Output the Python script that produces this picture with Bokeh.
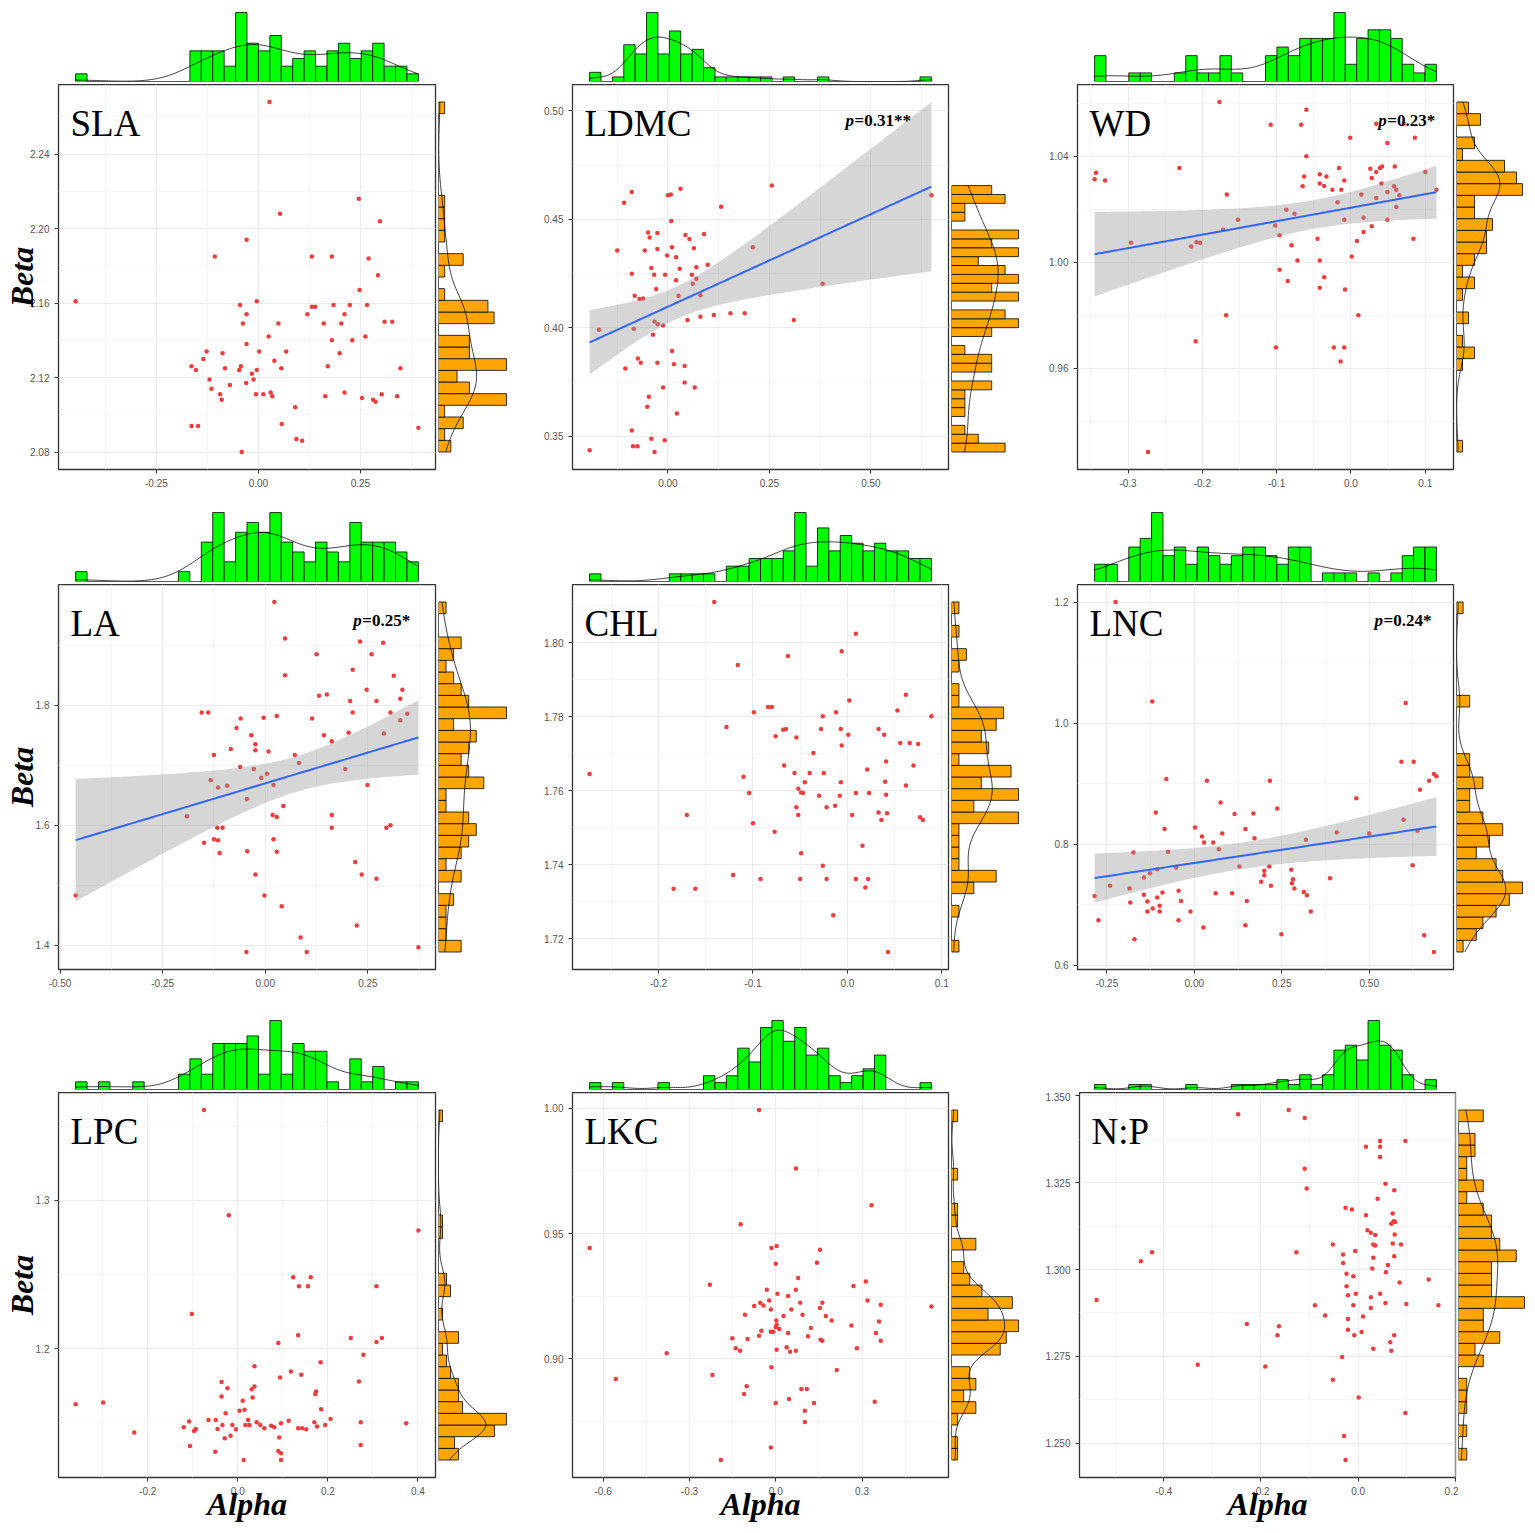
import numpy as np
from bokeh.plotting import figure
from bokeh.layouts import row, column
from bokeh.models import Range1d, FixedTicker, Spacer, PrintfTickFormatter
from bokeh.core.properties import value
from bokeh.embed import file_html
from bokeh.resources import INLINE

# ---------------- data ----------------
sla_alpha = [0.027, -0.448, 0.246, 0.053, 0.298, -0.029, -0.107, 0.131, 0.180, 0.270,
             0.293, 0.248, -0.045, -0.004, 0.131, 0.139, 0.184, 0.224, 0.266, -0.029,
             0.120, 0.211, -0.038, 0.049, 0.160, 0.203, 0.309, 0.328, 0.025, 0.262,
             0.230, 0.180, -0.029, -0.127, -0.088, 0.002, 0.068, 0.199, -0.135, 0.039,
             -0.164, -0.153, -0.082, -0.047, -0.043, -0.004, -0.016, 0.056, 0.170, 0.348,
             -0.120, -0.012, -0.030, -0.070, -0.115, -0.094, -0.090, -0.006, 0.012, 0.030,
             0.034, 0.211, 0.164, 0.254, 0.281, 0.287, 0.302, 0.340, 0.090, -0.164,
             -0.148, 0.057, 0.392, 0.093, 0.107, -0.041]
sla_beta = [2.268, 2.161, 2.216, 2.208, 2.204, 2.194, 2.185, 2.185, 2.185, 2.184,
            2.175, 2.167, 2.159, 2.161, 2.158, 2.158, 2.159, 2.159, 2.159, 2.154,
            2.154, 2.154, 2.149, 2.149, 2.149, 2.149, 2.150, 2.150, 2.142, 2.142,
            2.140, 2.140, 2.138, 2.134, 2.133, 2.134, 2.134, 2.133, 2.130, 2.129,
            2.126, 2.124, 2.125, 2.124, 2.126, 2.124, 2.122, 2.125, 2.126, 2.125,
            2.119, 2.119, 2.117, 2.116, 2.114, 2.111, 2.108, 2.111, 2.111, 2.112,
            2.110, 2.112, 2.110, 2.109, 2.108, 2.107, 2.111, 2.110, 2.104, 2.094,
            2.094, 2.095, 2.093, 2.087, 2.086, 2.080]

ldmc_alpha = [0.256, 0.649, -0.089, 0.031, 0.000, 0.007, -0.108, 0.131, 0.008, -0.049,
              -0.026, -0.045, 0.043, 0.053, 0.089, -0.125, -0.057, -0.026, 0.010, 0.064,
              0.209, -0.002, 0.020, 0.098, -0.041, 0.070, 0.029, -0.089, -0.034, -0.007,
              0.059, 0.020, 0.070, 0.061, 0.381, -0.029, -0.082, -0.070, -0.061, 0.026,
              0.080, 0.113, 0.154, 0.189, 0.080, 0.048, 0.310, -0.033, -0.025, -0.012,
              -0.170, -0.084, -0.037, 0.010, -0.074, -0.067, -0.105, -0.026, 0.015, 0.041,
              0.041, -0.012, 0.066, -0.047, -0.051, 0.022, -0.089, -0.041, -0.008, -0.086,
              -0.075, -0.193, -0.033]
ldmc_beta = [0.4656, 0.4611, 0.4626, 0.4641, 0.4611, 0.4615, 0.4577, 0.4559, 0.4493, 0.4440,
             0.4437, 0.4417, 0.4428, 0.4410, 0.4433, 0.4357, 0.4357, 0.4364, 0.4372, 0.4367,
             0.4372, 0.4334, 0.4326, 0.4291, 0.4276, 0.4280, 0.4273, 0.4250, 0.4245, 0.4245,
             0.4245, 0.4220, 0.4227, 0.4204, 0.4204, 0.4179, 0.4148, 0.4133, 0.4136, 0.4148,
             0.4151, 0.4060, 0.4067, 0.4067, 0.4052, 0.4037, 0.4037, 0.4029, 0.4017, 0.4011,
             0.3991, 0.3996, 0.3969, 0.3893, 0.3859, 0.3839, 0.3813, 0.3839, 0.3832, 0.3824,
             0.3748, 0.3725, 0.3725, 0.3683, 0.3637, 0.3606, 0.3527, 0.3489, 0.3482, 0.3454,
             0.3454, 0.3436, 0.3428]

wd_alpha = [-0.177, -0.060, -0.108, -0.067, 0.034, 0.071, -0.001, 0.086, 0.049, -0.060,
            -0.231, -0.343, -0.345, -0.331, -0.016, 0.026, 0.039, 0.042, 0.059, 0.034,
            0.100, -0.063, -0.042, -0.033, 0.028, -0.009, -0.042, -0.036, -0.065, 0.041,
            0.058, -0.025, -0.013, 0.115, 0.049, 0.061, -0.167, 0.014, 0.065, 0.034,
            -0.018, 0.061, -0.087, -0.076, -0.152, -0.009, 0.017, 0.049, -0.102, -0.172,
            0.028, 0.017, -0.096, -0.296, -0.208, -0.203, -0.215, -0.045, 0.008, 0.084,
            -0.080, -0.072, -0.042, 0.001, -0.096, -0.036, -0.085, -0.042, -0.008, -0.168,
            0.010, -0.209, -0.101, -0.023, -0.009, -0.014, -0.273]
wd_beta = [1.0604, 1.0575, 1.0518, 1.0518, 1.0522, 1.0522, 1.0469, 1.0469, 1.0449, 1.0399,
           1.0355, 1.0337, 1.0312, 1.0308, 1.0355, 1.0352, 1.0355, 1.0361, 1.0361, 1.0340,
           1.0340, 1.0323, 1.0331, 1.0323, 1.0317, 1.0308, 1.0296, 1.0287, 1.0286, 1.0296,
           1.0286, 1.0273, 1.0273, 1.0273, 1.0264, 1.0273, 1.0255, 1.0255, 1.0252, 1.0242,
           1.0226, 1.0208, 1.0197, 1.0182, 1.0160, 1.0160, 1.0167, 1.0160, 1.0138, 1.0122,
           1.0135, 1.0113, 1.0101, 1.0073, 1.0075, 1.0073, 1.0059, 1.0088, 1.0079, 1.0088,
           1.0063, 1.0006, 1.0006, 1.0021, 0.9971, 0.9943, 0.9928, 0.9903, 0.9896, 0.9799,
           0.9799, 0.9701, 0.9677, 0.9677, 0.9677, 0.9625, 0.9283]

la_alpha = [0.022, 0.048, 0.231, 0.287, 0.125, 0.259, 0.213, 0.048, 0.313, 0.131,
            0.150, 0.247, 0.334, 0.207, 0.271, 0.329, -0.155, -0.139, 0.028, 0.213,
            0.305, 0.346, -0.060, -0.004, 0.114, 0.329, -0.070, -0.034, 0.143, 0.203,
            0.289, -0.024, 0.162, -0.084, -0.024, 0.008, -0.125, 0.072, 0.082, -0.061,
            -0.028, 0.195, 0.004, -0.010, -0.133, -0.115, -0.093, 0.020, 0.249, -0.045,
            0.044, -0.191, 0.018, 0.028, 0.162, -0.117, -0.104, 0.162, 0.295, 0.305,
            -0.149, -0.125, -0.115, 0.020, -0.111, -0.044, 0.028, 0.219, -0.024, 0.235,
            0.271, -0.462, -0.002, 0.040, 0.223, 0.086, -0.046, 0.101, 0.373]
la_beta = [1.972, 1.911, 1.906, 1.904, 1.885, 1.885, 1.859, 1.850, 1.849, 1.816,
           1.818, 1.826, 1.826, 1.807, 1.807, 1.811, 1.788, 1.788, 1.782, 1.788,
           1.788, 1.786, 1.778, 1.779, 1.778, 1.775, 1.762, 1.750, 1.750, 1.754,
           1.753, 1.735, 1.740, 1.727, 1.725, 1.723, 1.717, 1.717, 1.704, 1.697,
           1.694, 1.694, 1.686, 1.679, 1.675, 1.663, 1.666, 1.667, 1.667, 1.644,
           1.632, 1.615, 1.617, 1.614, 1.617, 1.596, 1.596, 1.596, 1.596, 1.600,
           1.571, 1.577, 1.575, 1.577, 1.554, 1.557, 1.556, 1.539, 1.518, 1.518,
           1.511, 1.483, 1.483, 1.465, 1.433, 1.413, 1.389, 1.389, 1.397]

chl_alpha = [-0.141, 0.009, -0.006, -0.063, -0.116, 0.062, 0.002, -0.084, -0.080, -0.099,
             -0.012, 0.053, -0.026, 0.089, -0.128, -0.068, -0.065, -0.028, -0.007, 0.033,
             -0.076, -0.054, 0.001, 0.039, -0.006, 0.056, 0.066, 0.075, -0.036, -0.067,
             0.041, 0.070, 0.021, -0.110, -0.056, -0.040, -0.025, -0.045, -0.007, 0.040,
             0.062, -0.052, -0.049, -0.047, -0.104, -0.030, -0.008, 0.009, 0.023, 0.041,
             -0.022, -0.013, -0.054, -0.052, 0.005, 0.033, 0.042, 0.036, -0.170, 0.077,
             0.080, -0.100, -0.077, 0.016, -0.049, -0.026, -0.121, -0.092, -0.050, -0.022,
             0.009, 0.022, 0.019, -0.184, -0.161, -0.015, 0.043, -0.273]
chl_beta = [1.8110, 1.8024, 1.7977, 1.7964, 1.7940, 1.7859, 1.7844, 1.7826, 1.7826, 1.7812,
            1.7812, 1.7817, 1.7801, 1.7801, 1.7772, 1.7765, 1.7767, 1.7767, 1.7767, 1.7767,
            1.7747, 1.7744, 1.7751, 1.7751, 1.7722, 1.7729, 1.7729, 1.7726, 1.7702, 1.7668,
            1.7679, 1.7668, 1.7657, 1.7638, 1.7648, 1.7648, 1.7648, 1.7623, 1.7623, 1.7624,
            1.7614, 1.7605, 1.7595, 1.7594, 1.7594, 1.7586, 1.7586, 1.7594, 1.7594, 1.7589,
            1.7555, 1.7559, 1.7555, 1.7534, 1.7534, 1.7541, 1.7539, 1.7521, 1.7534, 1.7528,
            1.7521, 1.7512, 1.7489, 1.7451, 1.7431, 1.7397, 1.7372, 1.7361, 1.7361, 1.7361,
            1.7361, 1.7361, 1.7338, 1.7335, 1.7335, 1.7263, 1.7164, 1.7645]

lnc_alpha = [-0.225, -0.120, 0.604, 0.592, 0.627, -0.080, 0.036, 0.216, 0.685, 0.692,
             0.671, 0.645, 0.463, 0.075, -0.110, 0.115, 0.169, 0.237, 0.598, -0.085,
             0.002, 0.146, 0.080, 0.407, 0.500, 0.638, 0.022, 0.028, 0.054, 0.172,
             0.319, 0.070, -0.174, -0.075, -0.052, 0.129, 0.214, 0.624, -0.127, -0.106,
             -0.144, 0.200, 0.200, 0.277, 0.282, 0.279, 0.191, 0.388, -0.241, -0.185,
             0.219, 0.286, -0.285, -0.144, -0.106, -0.091, -0.045, 0.061, 0.108, 0.313,
             0.322, -0.183, -0.134, -0.038, 0.150, -0.119, -0.099, -0.099, -0.134, -0.011,
             0.333, -0.274, -0.045, 0.146, 0.026, 0.249, -0.171, 0.657, 0.685]
lnc_beta = [1.2000, 1.0355, 1.0333, 0.9362, 0.9362, 0.9076, 0.9048, 0.9048, 0.9158, 0.9120,
            0.9048, 0.8899, 0.8756, 0.8689, 0.8524, 0.8496, 0.8507, 0.8590, 0.8403, 0.8248,
            0.8276, 0.8248, 0.8177, 0.8193, 0.8177, 0.8221, 0.8127, 0.8028, 0.8028, 0.8099,
            0.8072, 0.7917, 0.7862, 0.7873, 0.7614, 0.7630, 0.7630, 0.7653, 0.7520, 0.7586,
            0.7448, 0.7559, 0.7487, 0.7575, 0.7421, 0.7355, 0.7377, 0.7437, 0.7311, 0.7266,
            0.7311, 0.7266, 0.7145, 0.7162, 0.7118, 0.7200, 0.7228, 0.7189, 0.7189, 0.7211,
            0.7156, 0.7035, 0.7051, 0.7062, 0.7062, 0.6935, 0.6980, 0.6886, 0.6886, 0.6886,
            0.6886, 0.6742, 0.6742, 0.6660, 0.6621, 0.6511, 0.6428, 0.6494, 0.6218]

lpc_alpha = [-0.075, -0.020, 0.401, 0.123, 0.162, 0.136, 0.156, 0.308, -0.102, 0.134,
             0.251, 0.320, 0.308, 0.090, 0.279, 0.184, 0.037, 0.118, 0.141, 0.094,
             -0.036, 0.269, -0.023, 0.037, 0.031, 0.174, 0.172, -0.360, -0.299, -0.036,
             0.033, 0.011, 0.015, 0.004, 0.185, -0.027, -0.108, -0.065, -0.049, -0.120,
             -0.093, -0.097, -0.045, -0.034, -0.012, -0.004, 0.017, 0.023, 0.026, 0.042,
             0.050, 0.059, 0.074, 0.081, 0.096, 0.113, 0.134, 0.143, 0.152, 0.170,
             0.176, 0.194, 0.206, 0.273, 0.374, -0.230, -0.016, -0.029, 0.092, -0.106,
             0.273, -0.050, 0.090, 0.096, 0.013, 0.096]
lpc_beta = [1.3608, 1.2899, 1.2797, 1.2482, 1.2482, 1.2421, 1.2421, 1.2421, 1.2234, 1.2090,
            1.2072, 1.2072, 1.2045, 1.2038, 1.1959, 1.1908, 1.1881, 1.1847, 1.1824, 1.1806,
            1.1775, 1.1779, 1.1734, 1.1745, 1.1727, 1.1712, 1.1694, 1.1626, 1.1637, 1.1678,
            1.1671, 1.1649, 1.1588, 1.1581, 1.1592, 1.1565, 1.1509, 1.1520, 1.1520, 1.1471,
            1.1459, 1.1446, 1.1459, 1.1486, 1.1486, 1.1457, 1.1486, 1.1520, 1.1486, 1.1504,
            1.1486, 1.1464, 1.1480, 1.1471, 1.1498, 1.1514, 1.1464, 1.1464, 1.1457, 1.1504,
            1.1475, 1.1486, 1.1527, 1.1504, 1.1498, 1.1435, 1.1414, 1.1396, 1.1401, 1.1345,
            1.1351, 1.1306, 1.1311, 1.1295, 1.1250, 1.1250]

lkc_alpha = [-0.058, 0.070, 0.333, -0.122, -0.647, -0.015, 0.003, 0.154, 0.143, 0.000,
             0.078, -0.229, 0.270, 0.313, -0.031, 0.070, 0.006, 0.043, -0.023, 0.319,
             -0.054, 0.085, 0.162, -0.075, -0.043, 0.365, 0.541, 0.154, -0.017, 0.054,
             -0.107, 0.027, 0.093, 0.174, 0.194, 0.002, 0.359, 0.003, 0.263, 0.000,
             0.012, 0.122, -0.050, -0.017, -0.009, 0.043, 0.348, -0.058, 0.112, -0.151,
             -0.098, 0.156, 0.162, 0.365, -0.139, -0.124, 0.003, 0.038, 0.050, 0.070,
             0.282, -0.379, -0.015, 0.212, -0.220, -0.556, -0.101, 0.089, 0.108, -0.110,
             0.046, 0.000, 0.133, 0.344, 0.101, 0.101, -0.017, -0.191]
lkc_beta = [0.9993, 0.9760, 0.9613, 0.9537, 0.9443, 0.9443, 0.9451, 0.9436, 0.9384, 0.9380,
            0.9323, 0.9296, 0.9291, 0.9309, 0.9276, 0.9276, 0.9260, 0.9251, 0.9233, 0.9233,
            0.9224, 0.9224, 0.9224, 0.9211, 0.9213, 0.9216, 0.9209, 0.9203, 0.9197, 0.9197,
            0.9176, 0.9171, 0.9176, 0.9171, 0.9153, 0.9153, 0.9149, 0.9136, 0.9133, 0.9127,
            0.9120, 0.9123, 0.9113, 0.9109, 0.9109, 0.9104, 0.9104, 0.9093, 0.9091, 0.9083,
            0.9080, 0.9077, 0.9073, 0.9073, 0.9043, 0.9033, 0.9037, 0.9047, 0.9029, 0.9033,
            0.9043, 0.9023, 0.8967, 0.8956, 0.8936, 0.8920, 0.8891, 0.8880, 0.8880, 0.8860,
            0.8840, 0.8824, 0.8824, 0.8829, 0.8793, 0.8749, 0.8647, 0.8597]

np_alpha = [-0.143, -0.247, -0.110, 0.045, 0.097, 0.016, 0.045, 0.045, -0.110, 0.056,
            0.074, -0.106, 0.040, -0.026, -0.013, 0.016, 0.071, 0.073, 0.068, 0.076,
            0.019, 0.026, 0.035, 0.075, -0.052, 0.031, 0.035, 0.071, 0.088, -0.424,
            -0.447, -0.127, -0.031, -0.006, 0.074, -0.031, 0.031, 0.061, 0.029, 0.057,
            -0.024, -0.010, 0.145, 0.085, -0.024, -0.021, -0.005, 0.045, 0.026, -0.538,
            -0.089, -0.010, 0.056, 0.099, 0.165, 0.026, -0.068, 0.010, -0.021, -0.229,
            -0.163, -0.021, 0.007, -0.166, -0.008, 0.074, 0.066, 0.068, 0.031, -0.033,
            -0.330, -0.191, -0.052, 0.001, 0.097, -0.029, -0.026]
np_beta = [1.3459, 1.3447, 1.3436, 1.3370, 1.3370, 1.3353, 1.3353, 1.3324, 1.3290, 1.3247,
           1.3228, 1.3233, 1.3204, 1.3178, 1.3173, 1.3156, 1.3161, 1.3139, 1.3132, 1.3137,
           1.3113, 1.3106, 1.3099, 1.3101, 1.3072, 1.3072, 1.3069, 1.3075, 1.3072, 1.3050,
           1.3024, 1.3050, 1.3043, 1.3053, 1.3038, 1.3019, 1.3034, 1.3013, 1.3003, 1.2992,
           1.2988, 1.2981, 1.2971, 1.2963, 1.2952, 1.2926, 1.2930, 1.2930, 1.2920, 1.2912,
           1.2897, 1.2897, 1.2904, 1.2901, 1.2897, 1.2889, 1.2868, 1.2865, 1.2858, 1.2843,
           1.2837, 1.2827, 1.2820, 1.2811, 1.2811, 1.2811, 1.2791, 1.2766, 1.2772, 1.2748,
           1.2726, 1.2721, 1.2683, 1.2632, 1.2587, 1.2521, 1.2452]

panel_names = ["SLA", "LDMC", "WD", "LA", "CHL", "LNC", "LPC", "LKC", "N:P"]
rho_values = [None, "=0.31**", "=0.23*", "=0.25*", None, "=0.24*", None, None, None]
has_fit = [False, True, True, True, False, True, False, False, False]

x_ticks = [[-0.25, 0.0, 0.25], [0.0, 0.25, 0.5], [-0.3, -0.2, -0.1, 0.0, 0.1],
           [-0.5, -0.25, 0.0, 0.25], [-0.2, -0.1, 0.0, 0.1], [-0.25, 0.0, 0.25, 0.5],
           [-0.2, 0.0, 0.2, 0.4], [-0.6, -0.3, 0.0, 0.3], [-0.4, -0.2, 0.0, 0.2]]
y_ticks = [[2.08, 2.12, 2.16, 2.20, 2.24], [0.35, 0.40, 0.45, 0.50], [0.96, 1.00, 1.04],
           [1.4, 1.6, 1.8], [1.72, 1.74, 1.76, 1.78, 1.80], [0.6, 0.8, 1.0, 1.2],
           [1.2, 1.3], [0.90, 0.95, 1.00], [1.250, 1.275, 1.300, 1.325, 1.350]]
x_fmt = ["%.2f", "%.2f", "%.1f", "%.2f", "%.1f", "%.2f", "%.1f", "%.1f", "%.1f"]
y_fmt = ["%.2f", "%.2f", "%.2f", "%.1f", "%.2f", "%.1f", "%.1f", "%.2f", "%.3f"]

alphas = [sla_alpha, ldmc_alpha, wd_alpha, la_alpha, chl_alpha, lnc_alpha, lpc_alpha, lkc_alpha, np_alpha]
betas = [sla_beta, ldmc_beta, wd_beta, la_beta, chl_beta, lnc_beta, lpc_beta, lkc_beta, np_beta]

# ---------------- layout / style ----------------
FW = [377, 376, 376]        # main frame widths per column
LB = [58, 35, 35]           # left borders per column
RW = [70, 69, 68]           # right-marginal frame widths
RB = [29, 22, 2]            # right borders of right marginal
FH = 385                    # main frame height
BB = [39, 47, 46]           # bottom borders per row
TT = [10, 2, 2]             # top borders of top marginals per row
BETA_STANDOFF = [-13, -7, -7]
TOP_H = 71
rho_frac = [0, 0.726, 0.80, 0.782, 0, 0.79, 0, 0, 0]
T_CRIT = 1.992

POINT_COLOR = "#F03C3C"
GREEN = "#00FF00"
ORANGE = "#FFA500"


def minor_of(t):
    s = t[1] - t[0]
    return [t[0] - 1.5 * s + k * s for k in range(len(t) + 3)]


def kde(v, grid):
    v = np.asarray(v, float)
    n = len(v)
    sd = v.std(ddof=1)
    q75, q25 = np.percentile(v, [75, 25])
    h = 0.9 * min(sd, (q75 - q25) / 1.34) * n ** -0.2
    z = (grid[:, None] - v[None, :]) / h
    return np.exp(-0.5 * z ** 2).sum(1) / (n * h * np.sqrt(2 * np.pi))


def lmfit(x, y, grid):
    n = len(x)
    b, a = np.polyfit(x, y, 1)
    res = y - (a + b * x)
    s = np.sqrt((res ** 2).sum() / (n - 2))
    sxx = ((x - x.mean()) ** 2).sum()
    fit = a + b * grid
    se = s * np.sqrt(1.0 / n + (grid - x.mean()) ** 2 / sxx)
    return fit, fit - T_CRIT * se, fit + T_CRIT * se


def make_panel(i, r, c):
    ax = np.array(alphas[i], float)
    by = np.array(betas[i], float)
    n = len(ax)
    xmin, xmax = ax.min(), ax.max()
    gx = np.linspace(xmin, xmax, 200)
    ylo, yhi = by.min(), by.max()
    if has_fit[i]:
        fit, lo, hi = lmfit(ax, by, gx)
        ylo = min(ylo, lo.min())
        yhi = max(yhi, hi.max())
    dx = (xmax - xmin) * 0.05
    dy = (yhi - ylo) * 0.05
    xr = Range1d(xmin - dx, xmax + dx)
    yr = Range1d(ylo - dy, yhi + dy)

    p = figure(x_range=xr, y_range=yr, frame_width=FW[c], frame_height=FH,
               min_border_left=LB[c], min_border_right=3, min_border_top=0,
               min_border_bottom=BB[r], toolbar_location=None, output_backend="svg",
               background_fill_color="white", border_fill_color="white")
    p.xaxis.ticker = FixedTicker(ticks=x_ticks[i], minor_ticks=minor_of(x_ticks[i]))
    p.yaxis.ticker = FixedTicker(ticks=y_ticks[i], minor_ticks=minor_of(y_ticks[i]))
    p.xaxis.formatter = PrintfTickFormatter(format=x_fmt[i])
    p.yaxis.formatter = PrintfTickFormatter(format=y_fmt[i])
    p.grid.grid_line_color = "#EBEBEB"
    p.grid.grid_line_width = 1
    p.grid.minor_grid_line_color = "#F3F3F3"
    p.grid.minor_grid_line_width = 0.8
    p.axis.minor_tick_line_color = None
    p.axis.axis_line_color = None
    p.axis.major_tick_line_color = "#333333"
    p.axis.major_tick_out = 4
    p.axis.major_tick_in = 0
    p.axis.major_label_standoff = 5
    p.axis.major_label_text_font = "Liberation Sans"
    p.axis.major_label_text_font_size = "10px"
    p.axis.major_label_text_color = "#555555"
    p.outline_line_color = "#333333"
    p.outline_line_width = 1.3
    p.outline_line_alpha = 1

    if c == 0:
        p.yaxis.axis_label = "Beta"
        p.yaxis.axis_label_text_font = "Liberation Serif"
        p.yaxis.axis_label_text_font_style = "bold italic"
        p.yaxis.axis_label_text_font_size = "32px"
        p.yaxis.axis_label_text_color = "black"
        p.yaxis.axis_label_standoff = BETA_STANDOFF[r]
    if r == 2:
        p.xaxis.axis_label = "Alpha"
        p.xaxis.axis_label_text_font = "Liberation Serif"
        p.xaxis.axis_label_text_font_style = "bold italic"
        p.xaxis.axis_label_text_font_size = "32px"
        p.xaxis.axis_label_text_color = "black"
        p.xaxis.axis_label_standoff = -12

    p.scatter(ax, by, size=4.5, fill_color=POINT_COLOR, line_color=None)
    if has_fit[i]:
        p.varea(x=gx, y1=lo, y2=hi, fill_color="#999999", fill_alpha=0.4)
        p.line(gx, fit, line_color="#3366FF", line_width=2)

    xs, xe = xr.start, xr.end
    ys, ye = yr.start, yr.end
    p.text(x=[xs + 12.0 / FW[c] * (xe - xs)], y=[ye - 39.0 / FH * (ye - ys)],
           text=[panel_names[i]], text_font=value("Liberation Serif"),
           text_font_size="37px", text_baseline="alphabetic", text_align="left",
           text_color="black")
    if rho_values[i] is not None:
        rx = xs + rho_frac[i] * (xe - xs)
        ry = ye - 36.0 / FH * (ye - ys)
        p.text(x=[rx], y=[ry], text=["p"], text_font=value("Liberation Serif"),
               text_font_size="17px", text_font_style="bold italic",
               text_baseline="alphabetic", text_align="left", text_color="black")
        p.text(x=[rx], y=[ry], text=[rho_values[i]], text_font=value("Liberation Serif"),
               text_font_size="17px", text_font_style="bold", x_offset=9,
               text_baseline="alphabetic", text_align="left", text_color="black")

    # top marginal
    counts, edges = np.histogram(ax, bins=30, range=(xmin, xmax))
    bw = edges[1] - edges[0]
    dens = kde(ax, gx) * n * bw
    tmax = max(counts.max(), dens.max()) * 1.03
    top = figure(x_range=xr, y_range=Range1d(0, tmax), frame_width=FW[c], frame_height=TOP_H,
                 min_border_left=LB[c], min_border_right=3, min_border_top=TT[r],
                 min_border_bottom=3, x_axis_location=None, y_axis_location=None,
                 toolbar_location=None, output_backend="svg", outline_line_color=None,
                 background_fill_color="white", border_fill_color="white")
    top.grid.grid_line_color = None
    top.quad(left=edges[:-1], right=edges[1:], bottom=0, top=counts,
             fill_color=GREEN, line_color="black", line_width=0.8)
    top.line(gx, dens, line_color="black", line_width=0.9, line_alpha=0.85)

    # right marginal
    cy, ey = np.histogram(by, bins=30, range=(by.min(), by.max()))
    bwy = ey[1] - ey[0]
    gy = np.linspace(by.min(), by.max(), 200)
    densy = kde(by, gy) * n * bwy
    rmax = max(cy.max(), densy.max()) * 1.03
    rt = figure(x_range=Range1d(0, rmax), y_range=yr, frame_width=RW[c], frame_height=FH,
                min_border_left=0, min_border_right=RB[c], min_border_top=0,
                min_border_bottom=BB[r], x_axis_location=None, y_axis_location=None,
                toolbar_location=None, output_backend="svg", outline_line_color=None,
                background_fill_color="white", border_fill_color="white")
    rt.grid.grid_line_color = None
    rt.quad(left=0, right=cy, bottom=ey[:-1], top=ey[1:],
            fill_color=ORANGE, line_color="black", line_width=0.8)
    rt.line(densy, gy, line_color="black", line_width=0.9, line_alpha=0.85)

    spacer = Spacer(width=RW[c] + RB[c], height=TOP_H + TT[r] + 3)
    return column(row(top, spacer), row(p, rt))


rows = []
for r in range(3):
    items = [make_panel(r * 3 + c, r, c) for c in range(3)]
    rows.append(row(*items))
layout = column(*rows)

open("out.html", "w").write(file_html(layout, INLINE, title="Alpha vs Beta"))
